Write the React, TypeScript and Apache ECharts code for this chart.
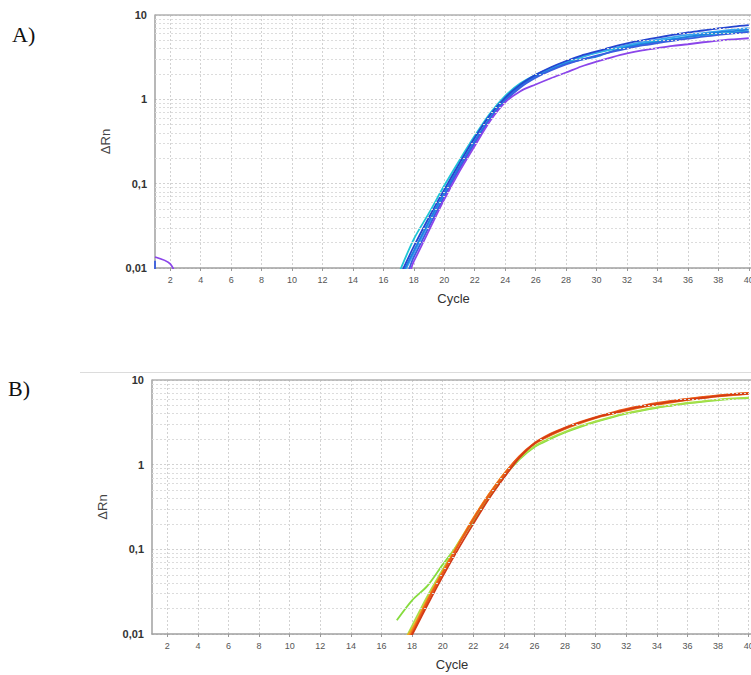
import React, { useEffect, useRef } from "react";
import * as echarts from "echarts";

const _ = null;
const cycles = [1, 2, 3, 4, 5, 6, 7, 8, 9, 10, 11, 12, 13, 14, 15, 16, 17, 18, 19, 20, 21, 22, 23, 24, 25, 26, 27, 28, 29, 30, 31, 32, 33, 34, 35, 36, 37, 38, 39, 40];
const xTicks = [2, 4, 6, 8, 10, 12, 14, 16, 18, 20, 22, 24, 26, 28, 30, 32, 34, 36, 38, 40];
const minorGrid = [0.02, 0.03, 0.04, 0.05, 0.06, 0.07, 0.08, 0.09, 0.2, 0.3, 0.4, 0.5, 0.6, 0.7, 0.8, 0.9, 2, 3, 4, 5, 6, 7, 8, 9];

// Panel A (blue family)
const a1 = [_, _, _, _, _, _, _, _, _, _, _, _, _, _, _, _, 0.0085, 0.022, 0.045, 0.095, 0.19, 0.37, 0.68, 1.1, 1.55, 1.95, 2.35, 2.75, 3.15, 3.55, 3.9, 4.25, 4.6, 4.9, 5.2, 5.5, 5.75, 6.0, 6.2, 6.4];
const a2 = [_, _, _, _, _, _, _, _, _, _, _, _, _, _, _, _, 0.0075, 0.018, 0.04, 0.085, 0.175, 0.35, 0.65, 1.05, 1.5, 1.95, 2.4, 2.85, 3.3, 3.7, 4.15, 4.6, 5.0, 5.4, 5.8, 6.2, 6.55, 6.95, 7.3, 7.6];
const a3 = [_, _, _, _, _, _, _, _, _, _, _, _, _, _, _, _, 0.007, 0.016, 0.036, 0.078, 0.16, 0.32, 0.6, 1.0, 1.42, 1.85, 2.25, 2.65, 2.95, 3.2, 3.7, 4.15, 4.5, 4.8, 5.15, 5.5, 5.85, 6.2, 6.45, 6.7];
const a4 = [_, _, _, _, _, _, _, _, _, _, _, _, _, _, _, _, 0.0065, 0.015, 0.034, 0.074, 0.155, 0.31, 0.58, 0.98, 1.45, 1.9, 2.35, 2.8, 3.2, 3.6, 4.0, 4.4, 4.75, 5.1, 5.45, 5.8, 6.1, 6.4, 6.7, 7.0];
const a5 = [0.0122, 0.0002, _, _, _, _, _, _, _, _, _, _, _, _, _, _, 0.006, 0.0135, 0.031, 0.07, 0.15, 0.3, 0.57, 0.95, 1.38, 1.8, 2.2, 2.6, 2.95, 3.3, 3.65, 4.0, 4.35, 4.65, 4.95, 5.25, 5.55, 5.8, 6.05, 6.3];
const a6 = [0.0135, 0.0112, 0.006, _, _, _, _, _, _, _, _, _, _, _, _, _, 0.0055, 0.012, 0.028, 0.065, 0.14, 0.28, 0.55, 0.92, 1.25, 1.5, 1.78, 2.08, 2.45, 2.8, 3.15, 3.5, 3.8, 4.05, 4.3, 4.5, 4.75, 4.98, 5.15, 5.3];

// Panel B (green / orange / red family)
const b1 = [_, _, _, _, _, _, _, _, _, _, _, _, _, _, _, _, 0.0145, 0.025, 0.037, 0.066, 0.115, 0.215, 0.4, 0.72, 1.15, 1.62, 2.0, 2.4, 2.8, 3.2, 3.6, 4.0, 4.35, 4.7, 5.0, 5.3, 5.55, 5.8, 6.0, 6.1];
const b2 = [_, _, _, _, _, _, _, _, _, _, _, _, _, _, _, _, 0.0055, 0.0125, 0.028, 0.058, 0.118, 0.225, 0.42, 0.74, 1.17, 1.65, 2.05, 2.45, 2.85, 3.25, 3.65, 4.05, 4.4, 4.75, 5.05, 5.35, 5.6, 5.85, 6.05, 6.2];
const b3 = [_, _, _, _, _, _, _, _, _, _, _, _, _, _, _, _, 0.0065, 0.0115, 0.026, 0.055, 0.115, 0.235, 0.44, 0.78, 1.22, 1.78, 2.25, 2.7, 3.15, 3.6, 4.0, 4.45, 4.85, 5.25, 5.6, 5.95, 6.25, 6.55, 6.8, 7.0];
const b4 = [_, _, _, _, _, _, _, _, _, _, _, _, _, _, _, _, 0.005, 0.0102, 0.024, 0.052, 0.11, 0.225, 0.43, 0.76, 1.25, 1.8, 2.3, 2.75, 3.2, 3.65, 4.1, 4.55, 4.95, 5.35, 5.7, 6.0, 6.3, 6.6, 6.85, 7.05];
const b5 = [_, _, _, _, _, _, _, _, _, _, _, _, _, _, _, _, 0.0048, 0.0098, 0.022, 0.048, 0.1, 0.2, 0.39, 0.7, 1.2, 1.78, 2.25, 2.7, 3.15, 3.6, 4.0, 4.45, 4.85, 5.2, 5.55, 5.85, 6.15, 6.45, 6.7, 6.9];
const b6 = [_, _, _, _, _, _, _, _, _, _, _, _, _, _, _, _, 0.0055, 0.0108, 0.025, 0.054, 0.112, 0.23, 0.44, 0.77, 1.24, 1.76, 2.2, 2.65, 3.1, 3.55, 3.95, 4.35, 4.75, 5.1, 5.45, 5.8, 6.1, 6.4, 6.65, 6.85];

const seriesA = [a1, a4, a3, a5, a2, a6];
const colorsA = ["#1fc6d6", "#3aa6ee", "#1f7fe0", "#3a5ee0", "#2545d0", "#8b45ea"];
const seriesB = [b1, b2, b3, b6, b4, b5];
const colorsB = ["#86dc3e", "#a8e04a", "#f3a21e", "#f07d1a", "#ea5a1a", "#d33a16"];

const FONT = "Liberation Sans, Arial, sans-serif";

const pts = (vals: (number | null)[]) =>
  cycles.map((c, i) => [c, vals[i]]).filter((p) => p[1] != null);

const yFmt = (v: number) => {
  const s = v >= 1 ? String(Math.round(v)) : String(parseFloat(v.toPrecision(2)));
  return s.replace(".", ",");
};

const dotted = { color: "#d2d2d2", width: 1, type: [2, 2] as any };
const minorDotted = { color: "#dcdcdc", width: 1, type: [2, 2] as any };

function xAxisCfg(gridIndex: number) {
  return {
    type: "value",
    gridIndex,
    min: 1,
    max: 41,
    axisLine: { show: true, lineStyle: { color: "#a0a0a0", width: 1.5 } },
    axisTick: { show: true, length: 3, customValues: xTicks, lineStyle: { color: "#999" } },
    axisLabel: { customValues: xTicks, color: "#555", fontSize: 9, margin: 7, fontFamily: FONT },
    splitLine: { show: true, lineStyle: dotted },
    name: "Cycle",
    nameLocation: "middle",
    nameGap: 24,
    nameTextStyle: { color: "#333", fontSize: 13, fontFamily: FONT, padding: [0, 12, 0, 0] },
  };
}

function yAxisCfg(gridIndex: number) {
  return {
    type: "log",
    logBase: 10,
    gridIndex,
    min: 0.01,
    max: 10,
    axisLine: { show: true, lineStyle: { color: "#a0a0a0", width: 1.5 } },
    axisTick: { show: false },
    axisLabel: { formatter: yFmt, color: "#333", fontSize: 11, fontWeight: "bold", margin: 8, fontFamily: FONT },
    splitLine: { show: true, lineStyle: dotted },
    name: "ΔRn",
    nameLocation: "middle",
    nameGap: 43,
    nameTextStyle: { color: "#444", fontSize: 13, fontFamily: FONT },
  };
}

function gridLines(idx: number) {
  return {
    type: "line",
    xAxisIndex: idx,
    yAxisIndex: idx,
    data: [],
    silent: true,
    z: 1,
    markLine: {
      silent: true,
      symbol: "none",
      label: { show: false },
      animation: false,
      data: [
        ...minorGrid.map((v) => ({ yAxis: v, lineStyle: minorDotted })),
        { yAxis: 10, lineStyle: { color: "#b0b0b0", width: 1.5, type: "solid" } },
      ],
    },
  };
}

function curves(list: (number | null)[][], colors: string[], idx: number) {
  return list.map((vals, i) => ({
    type: "line",
    xAxisIndex: idx,
    yAxisIndex: idx,
    data: pts(vals),
    showSymbol: false,
    symbol: "none",
    smooth: 0.3,
    clip: true,
    silent: true,
    z: 3,
    lineStyle: { color: colors[i], width: 1.8 },
  }));
}

export default function App() {
  const ref = useRef<HTMLDivElement>(null);
  useEffect(() => {
    if (!ref.current) return;
    const chart = echarts.init(ref.current, null, { renderer: "svg" });
    chart.setOption({
      animation: false,
      backgroundColor: "#ffffff",
      grid: [
        { left: 155, top: 15, width: 609, height: 253, containLabel: false, outerBoundsMode: "none" },
        { left: 152, top: 380, width: 612, height: 254, containLabel: false, outerBoundsMode: "none" },
      ],
      xAxis: [xAxisCfg(0), xAxisCfg(1)],
      yAxis: [yAxisCfg(0), yAxisCfg(1)],
      graphic: [
        { type: "text", left: 12, top: 23, style: { text: "A)", font: "22px 'Liberation Serif', 'Times New Roman', serif", fill: "#111" } },
        { type: "text", left: 8, top: 377, style: { text: "B)", font: "22px 'Liberation Serif', 'Times New Roman', serif", fill: "#111" } },
        { type: "line", shape: { x1: 80, y1: 372.5, x2: 751, y2: 372.5 }, style: { stroke: "#dcdcdc", lineWidth: 1 } },
      ],
      series: [
        gridLines(0),
        gridLines(1),
        ...curves(seriesA, colorsA, 0),
        ...curves(seriesB, colorsB, 1),
      ],
    });
    return () => chart.dispose();
  }, []);
  return (
    <div
      ref={ref}
      style={{ position: "fixed", left: 0, top: 0, width: 751, height: 675, background: "#fff" }}
    />
  );
}
